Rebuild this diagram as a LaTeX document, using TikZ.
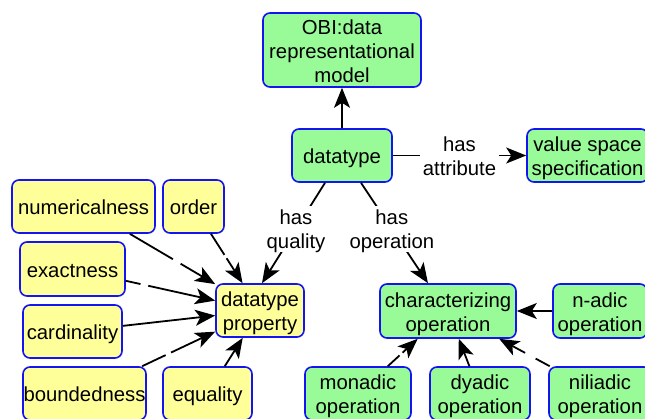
\documentclass[tikz,border=0pt]{standalone}
\usepackage{fontspec}
\setmainfont{Liberation Sans}
\usetikzlibrary{arrows.meta,calc}
\definecolor{boxgreen}{RGB}{152,251,152}
\definecolor{boxyellow}{RGB}{255,255,153}
\definecolor{boxblue}{RGB}{20,20,240}
\begin{document}
\begin{tikzpicture}[x=1pt,y=-1pt,
  every node/.style={font=\fontsize{20.3}{24}\selectfont},
  box/.style={draw=boxblue,line width=1.6pt,rounded corners=7pt,align=center,inner sep=0pt,
    minimum height=53pt,text height=16pt,text depth=0pt},
  two/.style={text height=40pt},
  three/.style={text height=64pt},
  gbox/.style={box,fill=boxgreen},
  ybox/.style={box,fill=boxyellow},
  lbl/.style={fill=white,align=center,inner sep=3pt,text height=40pt,text depth=0pt},
  arr/.style={line width=1.8pt,-{Stealth[length=20pt,width=16pt,inset=5pt]}},
  gap/.style 2 args={dash pattern=on #1pt off #2pt on 400pt}]
\clip (0,0) rectangle (645,418);
\useasboundingbox (0,0) rectangle (645,418);
% green nodes
\node[gbox,three,minimum width=158pt,minimum height=74pt] (obi) at (342,50) {OBI:data\\representational\\model};
\node[gbox,minimum width=100pt] (dt) at (342,155.5) {datatype};
\node[gbox,two,minimum width=121pt] (vss) at (587.5,155.5) {value space\\specification};
\node[gbox,two,minimum width=136pt,minimum height=54pt] (char) at (448,311) {characterizing\\operation};
\node[gbox,two,minimum width=94pt,minimum height=54pt] (nadic) at (600,311) {n-adic\\operation};
\node[gbox,two,minimum width=106pt] (mon) at (358,393.5) {monadic\\operation};
\node[gbox,two,minimum width=100pt] (dy) at (480,393.5) {dyadic\\operation};
\node[gbox,two,minimum width=102pt] (nil) at (600,393.5) {niliadic\\operation};
% yellow nodes
\node[ybox,minimum width=143pt] (num) at (83.5,206.5) {numericalness};
\node[ybox,minimum width=61pt] (ord) at (193.5,206.5) {order};
\node[ybox,minimum width=105pt,minimum height=54pt] (exa) at (72.5,269) {exactness};
\node[ybox,minimum width=99pt] (car) at (72.5,331.5) {cardinality};
\node[ybox,minimum width=123pt] (bou) at (84.5,393.5) {boundedness};
\node[ybox,minimum width=89pt] (equ) at (207.5,393.5) {equality};
\node[ybox,two,minimum width=88pt] (dtp) at (260,310.5) {datatype\\property};
% edges
\draw[arr] (dt) -- (obi);
\draw[arr] (dt) -- node[lbl] (la) {has\\attribute} (vss);
\draw[arr] ($(dt.south)+(-17,0)$) -- node[lbl,pos=0.46] (lq) {has\\quality} ($(dtp.north)+(2,0)$);
\draw[arr] ($(dt.south)+(19,0)$) -- node[lbl,pos=0.46] (lo) {has\\operation} ($(char.north)+(-20,0)$);
\draw[arr,gap={50}{9}] (num) -- (dtp);
\draw[arr,gap={25}{4}] (ord) -- (dtp);
\draw[arr,gap={15}{8}] (exa) -- (dtp);
\draw[arr] (car) -- (dtp);
\draw[arr,gap={26}{6}] (bou) -- (dtp);
\draw[arr] (equ) -- (dtp);
\draw[arr] (nadic) -- (char);
\draw[arr,gap={16}{4}] (mon) -- (char);
\draw[arr] (dy) -- (char);
\draw[arr,gap={16}{12}] (nil) -- (char);
\end{tikzpicture}
\end{document}
